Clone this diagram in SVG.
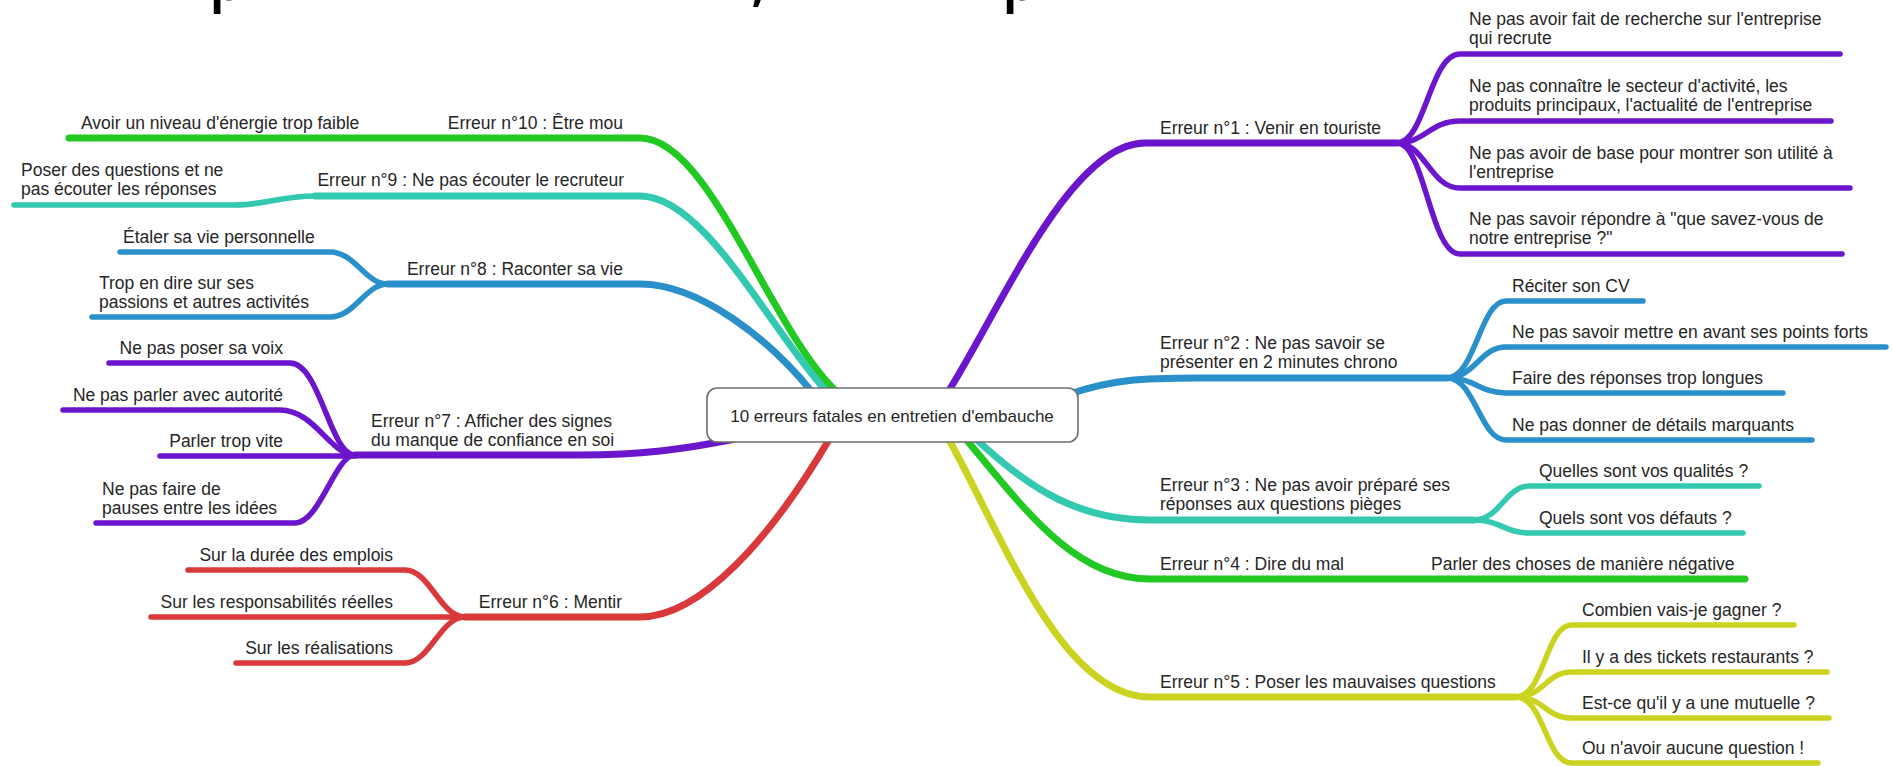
<svg xmlns="http://www.w3.org/2000/svg" width="1892" height="766" viewBox="0 0 1892 766">
<style>
.t{font-family:"Liberation Sans",Arial,sans-serif;font-size:17.5px;fill:#262626}
.e{text-anchor:end}
.ctr{font-family:"Liberation Sans",Arial,sans-serif;font-size:17px;fill:#262626;text-anchor:middle}
.big{font-family:"Open Sans",sans-serif;font-size:58px;font-weight:600;fill:#000}
.m{fill:none;stroke-width:7;stroke-linecap:round;stroke-linejoin:round}
.s{fill:none;stroke-width:5.5;stroke-linecap:round;stroke-linejoin:round}
.pu{stroke:#6b16cc}.bl{stroke:#2a90c9}.te{stroke:#33c8b0}.gr{stroke:#22c922}.ye{stroke:#cad420}.re{stroke:#d9393b}
</style>
<rect width="1892" height="766" fill="#fff"/>
<g id="title-fragment">
<text class="big" x="209" y="0">p</text>
<text class="big" x="751" y="0">,</text>
<text class="big" x="1002" y="0">p</text>
</g>
<g id="connectors">
<path class="m gr" d="M69,138 H640 C710,138 770,330 837,392"/>
<path class="m te" d="M315,196 H640 C705,196 770,330 827,392"/>
<path class="s te" d="M14,205 H235 C265,205 280,196 315,196"/>
<path class="m bl" d="M388,284 H640 C700,284 770,340 812,392"/>
<path class="s bl" d="M120,252 H330 C355,252 365,284 388,284"/>
<path class="s bl" d="M92,317 H330 C355,317 365,284 388,284"/>
<path class="m pu" d="M355,455 H580 C640,455 680,450 740,438"/>
<path class="s pu" d="M109,363 H290 C320,363 330,455 355,455"/>
<path class="s pu" d="M63,410 H280 C315,410 330,455 355,455"/>
<path class="s pu" d="M160,456 H355"/>
<path class="s pu" d="M96,523 H295 C320,523 335,455 355,455"/>
<path class="m re" d="M465,617 H640 C700,617 770,540 830,438"/>
<path class="s re" d="M188,570 H405 C430,570 440,617 465,617"/>
<path class="s re" d="M151,617 H465"/>
<path class="s re" d="M236,663 H405 C430,663 440,617 465,617"/>
<path class="m pu" d="M948,392 C1000,310 1070,143 1145,143 H1397"/>
<path class="s pu" d="M1397,143 C1425,143 1430,54 1460,54 H1840"/>
<path class="s pu" d="M1397,143 C1425,143 1430,121 1460,121 H1831"/>
<path class="s pu" d="M1397,143 C1425,143 1430,188 1460,188 H1850"/>
<path class="s pu" d="M1397,143 C1425,143 1430,254 1460,254 H1842"/>
<path class="m bl" d="M1070,394 C1110,380 1140,378 1200,378 H1447"/>
<path class="s bl" d="M1447,378 C1475,378 1480,301 1506,301 H1643"/>
<path class="s bl" d="M1447,378 C1475,378 1480,347 1506,347 H1886"/>
<path class="s bl" d="M1447,378 C1475,378 1480,393 1506,393 H1783"/>
<path class="s bl" d="M1447,378 C1475,378 1480,440 1506,440 H1812"/>
<path class="m te" d="M975,438 C1030,490 1080,520 1150,520 H1474"/>
<path class="s te" d="M1474,520 C1500,520 1505,486 1530,486 H1759"/>
<path class="s te" d="M1474,520 C1500,520 1505,533 1530,533 H1743"/>
<path class="m gr" d="M965,438 C1025,510 1075,579 1150,579 H1745"/>
<path class="m ye" d="M948,438 C1000,530 1060,697 1150,697 H1515"/>
<path class="s ye" d="M1515,697 C1545,697 1545,625 1572,625 H1794"/>
<path class="s ye" d="M1515,697 C1545,697 1545,672 1572,672 H1827"/>
<path class="s ye" d="M1515,697 C1545,697 1545,718 1572,718 H1829"/>
<path class="s ye" d="M1515,697 C1545,697 1545,763 1572,763 H1818"/>
</g>
<g id="node-center">
<rect x="707" y="388" width="371" height="54" rx="10" fill="#fff" stroke="#6e6e6e" stroke-width="1.6"/>
<text class="ctr" x="892" y="422">10 erreurs fatales en entretien d'embauche</text>
</g>
<g id="node-e10"><text class="t e" x="623" y="129">Erreur n°10 : Être mou</text></g>
<g id="node-e10-1"><text class="t" x="81" y="129">Avoir un niveau d'énergie trop faible</text></g>
<g id="node-e9"><text class="t e" x="624" y="186">Erreur n°9 : Ne pas écouter le recruteur</text></g>
<g id="node-e9-1"><text class="t" x="21" y="176">Poser des questions et ne</text><text class="t" x="21" y="195">pas écouter les réponses</text></g>
<g id="node-e8"><text class="t e" x="623" y="275">Erreur n°8 : Raconter sa vie</text></g>
<g id="node-e8-1"><text class="t" x="123" y="243">Étaler sa vie personnelle</text></g>
<g id="node-e8-2"><text class="t" x="99" y="289">Trop en dire sur ses</text><text class="t" x="99" y="308">passions et autres activités</text></g>
<g id="node-e7"><text class="t" x="371" y="427">Erreur n°7 : Afficher des signes</text><text class="t" x="371" y="446">du manque de confiance en soi</text></g>
<g id="node-e7-1"><text class="t e" x="283" y="354">Ne pas poser sa voix</text></g>
<g id="node-e7-2"><text class="t e" x="283" y="401">Ne pas parler avec autorité</text></g>
<g id="node-e7-3"><text class="t e" x="283" y="447">Parler trop vite</text></g>
<g id="node-e7-4"><text class="t" x="102" y="495">Ne pas faire de</text><text class="t" x="102" y="514">pauses entre les idées</text></g>
<g id="node-e6"><text class="t e" x="622" y="608">Erreur n°6 : Mentir</text></g>
<g id="node-e6-1"><text class="t e" x="393" y="561">Sur la durée des emplois</text></g>
<g id="node-e6-2"><text class="t e" x="393" y="608">Sur les responsabilités réelles</text></g>
<g id="node-e6-3"><text class="t e" x="393" y="654">Sur les réalisations</text></g>
<g id="node-e1"><text class="t" x="1160" y="134">Erreur n°1 : Venir en touriste</text></g>
<g id="node-e1-1"><text class="t" x="1469" y="25">Ne pas avoir fait de recherche sur l'entreprise</text><text class="t" x="1469" y="44">qui recrute</text></g>
<g id="node-e1-2"><text class="t" x="1469" y="92">Ne pas connaître le secteur d'activité, les</text><text class="t" x="1469" y="111">produits principaux, l'actualité de l'entreprise</text></g>
<g id="node-e1-3"><text class="t" x="1469" y="159">Ne pas avoir de base pour montrer son utilité à</text><text class="t" x="1469" y="178">l'entreprise</text></g>
<g id="node-e1-4"><text class="t" x="1469" y="225">Ne pas savoir répondre à "que savez-vous de</text><text class="t" x="1469" y="244">notre entreprise ?"</text></g>
<g id="node-e2"><text class="t" x="1160" y="349">Erreur n°2 : Ne pas savoir se</text><text class="t" x="1160" y="368">présenter en 2 minutes chrono</text></g>
<g id="node-e2-1"><text class="t" x="1512" y="292">Réciter son CV</text></g>
<g id="node-e2-2"><text class="t" x="1512" y="338">Ne pas savoir mettre en avant ses points forts</text></g>
<g id="node-e2-3"><text class="t" x="1512" y="384">Faire des réponses trop longues</text></g>
<g id="node-e2-4"><text class="t" x="1512" y="431">Ne pas donner de détails marquants</text></g>
<g id="node-e3"><text class="t" x="1160" y="491">Erreur n°3 : Ne pas avoir préparé ses</text><text class="t" x="1160" y="510">réponses aux questions pièges</text></g>
<g id="node-e3-1"><text class="t" x="1539" y="477">Quelles sont vos qualités ?</text></g>
<g id="node-e3-2"><text class="t" x="1539" y="524">Quels sont vos défauts ?</text></g>
<g id="node-e4"><text class="t" x="1160" y="570">Erreur n°4 : Dire du mal</text></g>
<g id="node-e4-1"><text class="t" x="1431" y="570">Parler des choses de manière négative</text></g>
<g id="node-e5"><text class="t" x="1160" y="688">Erreur n°5 : Poser les mauvaises questions</text></g>
<g id="node-e5-1"><text class="t" x="1582" y="616">Combien vais-je gagner ?</text></g>
<g id="node-e5-2"><text class="t" x="1582" y="663">Il y a des tickets restaurants ?</text></g>
<g id="node-e5-3"><text class="t" x="1582" y="709">Est-ce qu'il y a une mutuelle ?</text></g>
<g id="node-e5-4"><text class="t" x="1582" y="754">Ou n'avoir aucune question !</text></g>
</svg>
